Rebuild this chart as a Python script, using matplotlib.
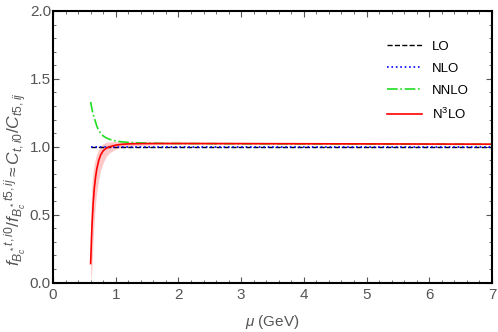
import numpy as np
import matplotlib.pyplot as plt
from matplotlib.ticker import MultipleLocator

plt.rcParams['font.family'] = ['Liberation Sans', 'DejaVu Sans']
plt.rcParams['mathtext.fontset'] = 'custom'
plt.rcParams['mathtext.rm'] = 'Liberation Sans'
plt.rcParams['mathtext.it'] = 'Liberation Sans:italic'

# values
mu = [0.6, 0.62, 0.64, 0.66, 0.68, 0.70, 0.73, 0.76, 0.80, 0.85, 0.90, 1.0, 1.1, 1.2, 1.4, 1.7, 2.0, 3.0, 4.0, 5.0, 6.0, 7.0]
lo = [1.0] * len(mu)
nlo = [0.998] * len(mu)
nnlo = [1.33, 1.28, 1.24, 1.21, 1.18, 1.15, 1.12, 1.10, 1.08, 1.065, 1.055, 1.042, 1.036, 1.032, 1.028, 1.025, 1.024, 1.022, 1.021, 1.020, 1.019, 1.018]
n3lo = [0.14, 0.40, 0.58, 0.70, 0.78, 0.84, 0.90, 0.94, 0.97, 0.99, 1.0, 1.012, 1.018, 1.021, 1.023, 1.024, 1.024, 1.023, 1.022, 1.021, 1.020, 1.019]
n3lo_lo = [0.0, 0.10, 0.32, 0.48, 0.59, 0.67, 0.76, 0.83, 0.88, 0.93, 0.955, 0.982, 0.996, 1.004, 1.011, 1.016, 1.018, 1.019, 1.018, 1.017, 1.016, 1.015]
n3lo_hi = [0.45, 0.72, 0.82, 0.88, 0.92, 0.95, 0.98, 1.005, 1.022, 1.032, 1.036, 1.038, 1.038, 1.037, 1.034, 1.031, 1.030, 1.027, 1.026, 1.025, 1.024, 1.023]

fig = plt.figure(figsize=(4.98, 3.32), dpi=100)
ax = fig.add_axes([0.1064, 0.149, 0.8816, 0.818])

grey = '#555555'
ax.fill_between(mu, n3lo_lo, n3lo_hi, color='#ffc8c8', lw=0)
ax.plot(mu, lo, '--', color='black', lw=1.0, label='LO')
ax.plot(mu, nlo, ':', color='blue', lw=1.2, label='NLO')
ax.plot(mu, nnlo, '-.', color='#22dd22', lw=1.2, label='NNLO')
ax.plot(mu, n3lo, '-', color='red', lw=1.2, label='N$^3$LO')

ax.set_xlim(0, 7)
ax.set_ylim(0, 2.0)
ax.xaxis.set_major_locator(MultipleLocator(1))
ax.xaxis.set_minor_locator(MultipleLocator(0.2))
ax.yaxis.set_major_locator(MultipleLocator(0.5))
ax.yaxis.set_minor_locator(MultipleLocator(0.1))
ax.tick_params(which='both', direction='in', top=True, right=True, colors=grey, labelcolor=grey, labelsize=11)
ax.tick_params(which='major', length=4)
ax.tick_params(axis='x', which='major', pad=4)
ax.tick_params(axis='y', which='major', pad=1.5)
ax.tick_params(which='minor', length=2)
for s in ax.spines.values():
    s.set_linewidth(1.5)
    s.set_color('black')

ax.set_xlabel(r'$\mu$ (GeV)', color=grey, fontsize=11, labelpad=8)
ax.set_ylabel(r'$f_{B_c^*}{}^{t,i0}/f_{B_c^*}{}^{t5,ij}\approx C_{t,i0}/C_{t5,ij}$', color=grey, fontsize=12.5)
ax.yaxis.set_label_coords(-0.057, 0.38)

leg = ax.legend(loc='upper right', frameon=False, handlelength=2.6, labelspacing=0.75, fontsize=9.5, bbox_to_anchor=(0.975, 0.935))

fig.savefig('out.png', dpi=100)
